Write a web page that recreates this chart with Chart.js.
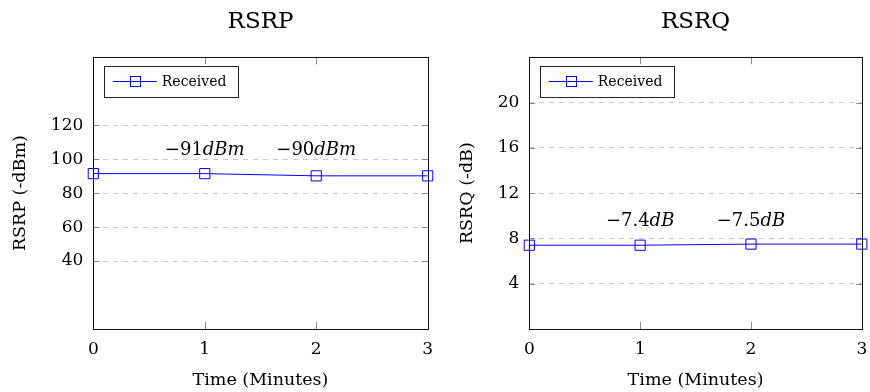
<!DOCTYPE html>
<html><head><meta charset="utf-8">
<script src="https://cdn.jsdelivr.net/npm/chart.js@4/dist/chart.umd.min.js"></script>
<style>
html,body{margin:0;padding:0;background:#fff;}
#wrap{position:relative;width:870px;height:392px;overflow:hidden;}
.box{position:absolute;top:0;height:392px;}
canvas{display:block;}
</style></head><body>
<div id="wrap">
<div class="box" style="left:0;width:440px"><canvas id="c1" width="440" height="392"></canvas></div>
<div class="box" style="left:440px;width:430px"><canvas id="c2" width="430" height="392"></canvas></div>
</div>
<script>
// ---- data ----
const timeMinutes = [0, 1, 2, 3];
const xTicks = [0, 1, 2, 3];
const rsrpValues = [91.5, 91.5, 90.2, 90.2];
const rsrqValues = [7.4, 7.4, 7.5, 7.5];
const rsrpTicks = [40, 60, 80, 100, 120];
const rsrqTicks = [4, 8, 12, 16, 20];
const rsrpRange = [0, 160];
const rsrqRange = [0, 24];
const seriesName = 'Received';
const rsrpNoteX = [1, 2];
const rsrpNoteY = [105, 105];
const rsrpNoteNum = ['\u221291', '\u221290'];
const rsrpNoteUnit = 'dBm';
const rsrqNoteX = [1, 2];
const rsrqNoteY = [9.5, 9.5];
const rsrqNoteNum = ['\u22127.4', '\u22127.5'];
const rsrqNoteUnit = 'dB';

const FONT = 'DejaVu Serif';
const BLUE = '#0000ff';
Chart.defaults.color = '#000';
Chart.defaults.font.family = FONT;

function line(ctx, x1, y1, x2, y2) { ctx.beginPath(); ctx.moveTo(x1, y1); ctx.lineTo(x2, y2); ctx.stroke(); }

function decor(opts) {
  return {
    id: 'decor',
    beforeDatasetsDraw(chart) {
      const { ctx, chartArea: a, scales: { x, y } } = chart;
      ctx.save();
      ctx.lineWidth = 1;
      ctx.strokeStyle = '#8c8c8c';
      y.ticks.forEach(t => {
        const py = Math.round(y.getPixelForValue(t.value)) + 0.5;
        line(ctx, a.left, py, a.left + 6, py);
        line(ctx, a.right - 6, py, a.right, py);
      });
      x.ticks.forEach(t => {
        const px = Math.round(x.getPixelForValue(t.value)) + 0.5;
        line(ctx, px, a.top, px, a.top + 7);
        line(ctx, px, a.bottom - 7, px, a.bottom);
      });
      ctx.strokeStyle = '#111';
      const L = Math.round(a.left) + 0.5, T = Math.round(a.top) + 0.5;
      ctx.strokeRect(L, T, Math.round(a.right) - Math.round(a.left), Math.round(a.bottom) - Math.round(a.top));
      ctx.restore();
    },
    afterDatasetsDraw(chart) {
      const { ctx, chartArea: a, scales: { x, y } } = chart;
      const ds = chart.data.datasets[0];
      ctx.save();
      // title
      ctx.fillStyle = '#000';
      ctx.font = '23px "' + FONT + '"';
      ctx.textAlign = 'center';
      ctx.textBaseline = 'middle';
      ctx.fillText(opts.title, (a.left + a.right) / 2, 22);
      // legend
      const lx = a.left + 10.5, ly = a.top + 8.5, lw = 134, lh = 31;
      ctx.fillStyle = '#fff';
      ctx.fillRect(lx, ly, lw, lh);
      ctx.strokeStyle = '#222';
      ctx.lineWidth = 1;
      ctx.strokeRect(Math.round(lx) + 0.5, Math.round(ly) + 0.5, lw, lh);
      const my = Math.round(ly + lh / 2) + 0.5;
      ctx.strokeStyle = ds.borderColor;
      line(ctx, lx + 9, my, lx + 53, my);
      const s = 5;
      ctx.strokeRect(Math.round(lx + 31) - s + 0.5, my - s, 2 * s, 2 * s);
      ctx.fillStyle = '#000';
      ctx.font = '14px "' + FONT + '"';
      ctx.textAlign = 'left';
      ctx.fillText(ds.label, lx + 58, my + 0.5);
      // annotations
      const up = '18px "' + FONT + '"', it = 'italic 18px "' + FONT + '"';
      opts.noteX.forEach((nx, i) => {
        const px = x.getPixelForValue(nx), py = y.getPixelForValue(opts.noteY[i]);
        ctx.font = up; const w1 = ctx.measureText(opts.noteNum[i]).width;
        ctx.font = it; const w2 = ctx.measureText(opts.noteUnit).width;
        let sx = px - (w1 + w2) / 2;
        ctx.textAlign = 'left'; ctx.textBaseline = 'middle';
        ctx.font = up; ctx.fillText(opts.noteNum[i], sx, py);
        ctx.font = it; ctx.fillText(opts.noteUnit, sx + w1, py);
      });
      ctx.restore();
    }
  };
}

function makeChart(id, values, yTicks, yRange, yTitle, padRight, yWidth, yTitlePad, notes, title) {
  return new Chart(document.getElementById(id), {
    type: 'line',
    data: {
      datasets: [{
        label: seriesName,
        data: timeMinutes.map((t, i) => ({ x: t, y: values[i] })),
        borderColor: BLUE,
        borderWidth: 1,
        pointStyle: 'rect',
        pointRadius: 7.2,
        pointBorderWidth: 1,
        pointBorderColor: BLUE,
        pointBackgroundColor: 'rgba(0,0,0,0)',
        tension: 0,
        clip: false
      }]
    },
    options: {
      responsive: false,
      animation: false,
      events: [],
      layout: { padding: { left: 0, top: 57.3, right: padRight, bottom: 0 } },
      plugins: { legend: { display: false }, tooltip: { enabled: false } },
      scales: {
        x: {
          type: 'linear', min: 0, max: 3,
          afterBuildTicks: s => { s.ticks = xTicks.map(v => ({ value: v })); },
          afterFit: s => { s.height = 392 - 329; s.paddingLeft = 0; s.paddingRight = 0; },
          grid: { display: false, drawTicks: false, tickLength: 0 },
          border: { display: false },
          ticks: { font: { size: 17, family: FONT }, padding: 10, color: '#000', maxRotation: 0 },
          title: { display: true, text: 'Time (Minutes)', font: { size: 17.5, family: FONT }, padding: { top: 0, bottom: 1 }, color: '#000' }
        },
        y: {
          min: yRange[0], max: yRange[1],
          afterBuildTicks: s => { s.ticks = yTicks.map(v => ({ value: v })); },
          afterFit: s => { s.width = yWidth; s.paddingTop = 0; s.paddingBottom = 0; },
          grid: { color: '#c8c8c8', lineWidth: 1, drawTicks: false, tickLength: 0 },
          border: { display: false, dash: [5, 5] },
          ticks: { font: { size: 17, family: FONT }, padding: 10, color: '#000' },
          title: { display: true, text: yTitle, font: { size: 17.5, family: FONT }, padding: { top: yTitlePad, bottom: 0 }, color: '#000' }
        }
      }
    },
    plugins: [decor(Object.assign({ title: title }, notes))]
  });
}

makeChart('c1', rsrpValues, rsrpTicks, rsrpRange, 'RSRP (-dBm)', 440 - 427.7, 93.3, 10,
  { noteX: rsrpNoteX, noteY: rsrpNoteY, noteNum: rsrpNoteNum, noteUnit: rsrpNoteUnit }, 'RSRP');
makeChart('c2', rsrqValues, rsrqTicks, rsrqRange, 'RSRQ (-dB)', 430 - 423.7, 89.3, 17,
  { noteX: rsrqNoteX, noteY: rsrqNoteY, noteNum: rsrqNoteNum, noteUnit: rsrqNoteUnit }, 'RSRQ');
</script>
</body></html>
